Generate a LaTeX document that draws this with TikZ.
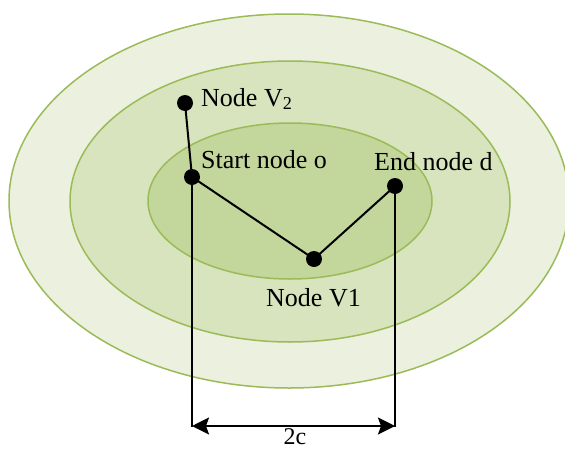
\documentclass[tikz,border=0pt]{standalone}
\usepackage{fontspec}
\setmainfont{Liberation Serif}
\usetikzlibrary{arrows.meta}
\definecolor{gstroke}{HTML}{9BBB59}
\definecolor{gouter}{HTML}{EBF1DE}
\definecolor{gmid}{HTML}{D7E4BD}
\definecolor{ginner}{HTML}{C3D69B}
\begin{document}
\begin{tikzpicture}[x=1pt,y=-1pt,
  ring/.style={draw=gstroke, line width=1.5pt},
  dot/.style={circle, fill=black, inner sep=0pt, minimum size=16pt},
  lbl/.style={font=\fontsize{26}{30}\selectfont, inner sep=0pt, anchor=base west},
  conn/.style={line width=2pt},
  dim/.style={line width=2.4pt, {Stealth[length=17pt,width=17pt,inset=3pt]}-{Stealth[length=17pt,width=17pt,inset=3pt]}}]
\clip (0,0) rectangle (565,450);
\fill[white] (0,0) rectangle (565,450);
\draw[ring, fill=gouter] (289,201) ellipse [x radius=280pt, y radius=187pt];
\draw[ring, fill=gmid] (290,201.5) ellipse [x radius=220pt, y radius=140.5pt];
\draw[ring, fill=ginner] (290,201) ellipse [x radius=142pt, y radius=78pt];
\node[dot] (v2) at (185,103) {};
\node[dot] (o) at (192,177) {};
\node[dot] (v1) at (314,259) {};
\node[dot] (d) at (395,186) {};
\coordinate (ob) at (192,426);
\coordinate (db) at (395,426);
\draw[conn] (v2.center) -- (o.center) -- (v1.center) -- (d.center);
\draw[conn] (o.center) -- (192,427);
\draw[conn] (d.center) -- (395,427);
\draw[dim] (ob) -- (db);
\node[lbl] (lv2) at (201,106) {Node V\textsubscript{2}};
\node[lbl] (lo) at (201,168) {Start node o};
\node[lbl] (ld) at (374,170) {End node d};
\node[lbl] (lv1) at (266,306) {Node V1};
\node[lbl, anchor=base, font=\fontsize{24}{28}\selectfont] (l2c) at (295,444) {2c};
\end{tikzpicture}
\end{document}
